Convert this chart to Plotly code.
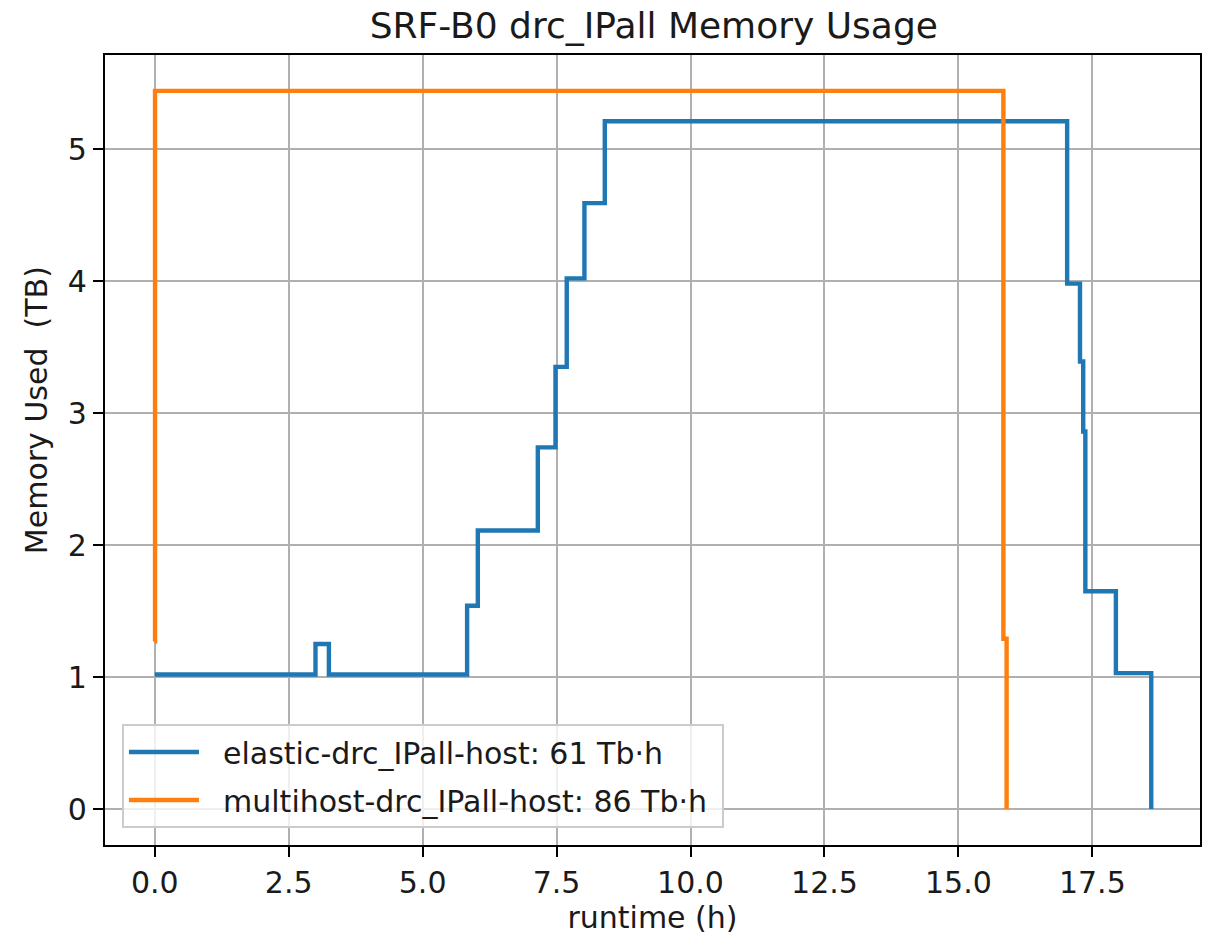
import plotly.graph_objects as go

# Data
elastic_t = [0.0, 3.0, 3.25, 5.83, 6.03, 7.15, 7.48, 7.69, 8.02, 8.40, 17.03, 17.27, 17.33, 17.37, 17.94, 18.60]
elastic_v = [1.02, 1.25, 1.02, 1.54, 2.11, 2.74, 3.35, 4.02, 4.59, 5.21, 3.98, 3.39, 2.86, 1.65, 1.03, 0.0]

multi_t = [0.0, 0.005, 15.84, 15.90]
multi_v = [1.27, 5.44, 1.29, 0.0]

elastic_name = "elastic-drc_IPall-host: 61 Tb·h"
multi_name = "multihost-drc_IPall-host: 86 Tb·h"

x_ticks = [0.0, 2.5, 5.0, 7.5, 10.0, 12.5, 15.0, 17.5]
y_ticks = [0, 1, 2, 3, 4, 5]

FONT = "DejaVu Sans"
TXT = "#1a1a1a"
PAD = "\u00a0\u00a0"

fig = go.Figure()
fig.add_trace(go.Scatter(x=elastic_t, y=elastic_v, mode="lines", line_shape="hv",
                         line=dict(color="#1f77b4", width=4.4), name=PAD + elastic_name + "\u00a0",
                         legendgroup="a"))
fig.add_trace(go.Scatter(x=multi_t, y=multi_v, mode="lines", line_shape="hv",
                         line=dict(color="#ff7f0e", width=4.4), name=PAD + multi_name + "\u00a0",
                         legendgroup="b"))

axis_common = dict(
    showgrid=True, gridcolor="#b0b0b0", gridwidth=2.3,
    showline=True, linecolor="black", linewidth=2.3, mirror=True,
    ticks="outside", ticklen=10, tickwidth=2.3, tickcolor="black",
    zeroline=False,
    tickfont=dict(family=FONT, size=30, color=TXT),
)

fig.update_layout(
    width=1205, height=935,
    margin=dict(l=105, r=3, t=55, b=90),
    paper_bgcolor="white", plot_bgcolor="white",
    title=dict(text="SRF-B0 drc_IPall Memory Usage", x=0.5426, xanchor="center",
               y=0.973, yanchor="middle", yref="container",
               font=dict(family=FONT, size=36, color=TXT)),
    xaxis=dict(range=[-0.929, 19.51], tickvals=x_ticks,
               ticktext=[f"{v:.1f}" for v in x_ticks],
               title=dict(text="runtime (h)", standoff=6,
                          font=dict(family=FONT, size=30, color=TXT)),
               **axis_common),
    yaxis=dict(range=[-0.272, 5.712], tickvals=y_ticks,
               ticktext=[str(v) for v in y_ticks],
               **axis_common),
    legend=dict(x=0.0155, y=0.0215, xanchor="left", yanchor="bottom",
                bgcolor="rgba(255,255,255,0.8)", bordercolor="#cccccc", borderwidth=2,
                font=dict(family=FONT, size=30, color=TXT),
                itemwidth=70, traceorder="grouped", tracegroupgap=6),
    showlegend=True,
    annotations=[dict(text="Memory Used\u00a0\u00a0(TB)", textangle=-90,
                      xref="paper", yref="paper", x=-0.0629, y=0.5506,
                      xanchor="center", yanchor="middle", showarrow=False,
                      font=dict(family=FONT, size=30, color=TXT))],
)

fig.write_html("out.html")
